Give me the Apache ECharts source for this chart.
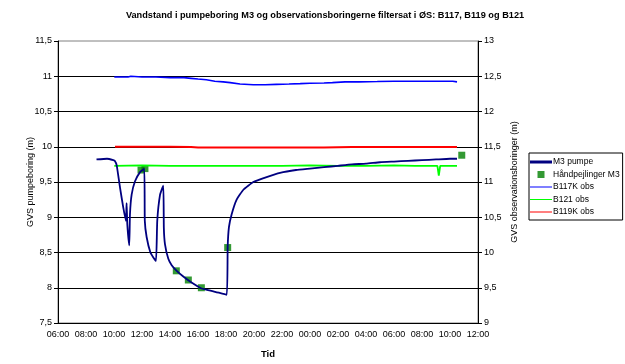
<!DOCTYPE html>
<html><head><meta charset="utf-8">
<script src="https://cdn.jsdelivr.net/npm/echarts@6/dist/echarts.min.js"></script>
<style>html,body{margin:0;padding:0;background:#fff}#c{width:625px;height:364px}</style>
</head><body><div id="c"></div>
<script>
// ---- data (time in hours from 00:00 day 1) ----
const titleText = 'Vandstand i pumpeboring M3 og observationsboringerne filtersat i ØS: B117, B119 og B121';
const xTickLabels = ['06:00','08:00','10:00','12:00','14:00','16:00','18:00','20:00','22:00','00:00','02:00','04:00','06:00','08:00','10:00','12:00'];
const seriesNames = ['M3 pumpe','Håndpejlinger M3','B117K obs','B121 obs','B119K obs'];

const m3Time  = [8.75,9.5,9.95,10.05,10.19,10.43,10.66,10.85,10.9,10.95,11.09,11.14,11.26,11.5,11.86,12.16,12.2,12.33,12.6,12.81,13.0,13.09,13.29,13.52,13.56,13.64,13.88,14.12,14.48,14.95,15.43,16.26,17.1,18.05,18.12,18.21,18.4,18.76,19.24,19.95,20.9,21.86,23,24,25,26,27,28,29,30,31,32,33,34,34.5];
const m3Level = [9.82,9.83,9.81,9.80,9.74,9.42,9.14,8.95,9.2,8.9,8.60,9.04,9.32,9.51,9.64,9.69,8.95,8.72,8.50,8.43,8.38,8.95,9.32,9.45,8.85,8.62,8.41,8.32,8.24,8.16,8.09,7.99,7.95,7.90,8.58,8.86,9.04,9.25,9.39,9.50,9.57,9.63,9.67,9.69,9.71,9.73,9.75,9.76,9.78,9.79,9.80,9.81,9.82,9.83,9.83];

const handTime  = [11.93,12.21,14.45,15.31,16.24,18.12,34.84];
const handLevel = [9.67,9.69,8.24,8.11,8.00,8.57,9.88];

const b117Time  = [10.02,11,11.2,11.3,12,13,14,15,15.5,16,16.6,17.2,17.8,18.3,19,19.95,20.8,21.6,22.5,23.3,24,25,25.6,26.5,27.5,28.8,30,31,32.3,33.5,34.2,34.5];
const b117Level = [12.49,12.49,12.50,12.49,12.49,12.49,12.48,12.48,12.47,12.46,12.45,12.43,12.42,12.41,12.39,12.38,12.38,12.385,12.39,12.395,12.40,12.405,12.41,12.42,12.42,12.425,12.43,12.43,12.43,12.43,12.43,12.42];

const b121Time  = [10.02,12,14,16,18,20,22,24,26,28,30,31.5,33.1,33.2,33.3,34.5];
const b121Level = [11.23,11.235,11.23,11.23,11.23,11.23,11.23,11.235,11.23,11.23,11.235,11.23,11.23,11.09,11.23,11.23];

const b119Time  = [10.07,12,14,15.5,16,18,20,22,24,25,27,29,31,33,34.5];
const b119Level = [11.5,11.5,11.5,11.495,11.49,11.49,11.49,11.49,11.49,11.49,11.495,11.495,11.495,11.495,11.495];

const zip = (a, b) => a.map((t, i) => [t, b[i]]);
const FONT = '"Liberation Sans", Arial, sans-serif';
const comma = v => String(v).replace('.', ',');
const pad = 'M0,0 L0.01,0 L0.01,0.01 Z M22,8 L21.99,8 L21.99,7.99 Z ';
const lineIcon = w => 'path://' + pad + 'M0,' + (4 - w / 2) + ' L22,' + (4 - w / 2) + ' L22,' + (4 + w / 2) + ' L0,' + (4 + w / 2) + ' Z';
const squareIcon = 'path://' + pad + 'M7.5,0.5 L14.5,0.5 L14.5,7.5 L7.5,7.5 Z';

const chart = echarts.init(document.getElementById('c'), null, {renderer: 'canvas'});
chart.setOption({
  animation: false,
  backgroundColor: '#fff',
  textStyle: {fontFamily: FONT, color: '#000'},
  title: {text: titleText, left: 320, textAlign: 'center', top: 6,
    textStyle: {fontFamily: FONT, fontSize: 9.2, fontWeight: 'bold', color: '#000'}},
  grid: {left: 58, right: 147, top: 41, bottom: 37, show: true, borderColor: '#808080', borderWidth: 1, backgroundColor: 'transparent'},
  legend: {
    orient: 'vertical', left: 529, top: 153, padding: [3, 3, 2, 1],
    borderColor: '#000', borderWidth: 1, itemWidth: 22, itemHeight: 8, itemGap: 0.5,
    textStyle: {fontFamily: FONT, fontSize: 8.5, color: '#000', lineHeight: 12, padding: [0, 0, 0, -4]},
    data: [
      {name: seriesNames[0], icon: lineIcon(3)},
      {name: seriesNames[1], icon: squareIcon},
      {name: seriesNames[2], icon: lineIcon(1.2)},
      {name: seriesNames[3], icon: lineIcon(1.2)},
      {name: seriesNames[4], icon: lineIcon(1.2)}
    ]
  },
  xAxis: {
    type: 'value', min: 6, max: 36, interval: 2,
    name: 'Tid', nameLocation: 'middle', nameGap: 26, nameMoveOverlap: false,
    nameTextStyle: {fontFamily: FONT, fontSize: 9.5, fontWeight: 'bold', color: '#000'},
    axisLine: {lineStyle: {color: '#000', width: 1}},
    axisTick: {show: false},
    splitLine: {show: false},
    axisLabel: {fontFamily: FONT, fontSize: 9, color: '#000', margin: 7,
      formatter: v => xTickLabels[Math.round((v - 6) / 2)]}
  },
  yAxis: [
    {
      type: 'value', min: 7.5, max: 11.5, interval: 0.5, position: 'left',
      name: 'GVS pumpeboring (m)', nameLocation: 'middle', nameGap: 23, nameRotate: 90, nameMoveOverlap: false,
      nameTextStyle: {fontFamily: FONT, fontSize: 9, color: '#000'},
      axisLine: {show: true, lineStyle: {color: '#000', width: 1}},
      axisTick: {show: true, length: 4, lineStyle: {color: '#000'}},
      splitLine: {show: true, showMaxLine: false, lineStyle: {color: '#000', width: 1}},
      axisLabel: {fontFamily: FONT, fontSize: 9, color: '#000', margin: 6, formatter: comma}
    },
    {
      type: 'value', min: 9, max: 13, interval: 0.5, position: 'right',
      name: 'GVS observationsboringer (m)', nameLocation: 'middle', nameGap: 32, nameRotate: 90, nameMoveOverlap: false,
      nameTextStyle: {fontFamily: FONT, fontSize: 9, color: '#000'},
      axisLine: {show: true, lineStyle: {color: '#000', width: 1}},
      axisTick: {show: true, length: 4, lineStyle: {color: '#000'}},
      splitLine: {show: false},
      axisLabel: {fontFamily: FONT, fontSize: 9, color: '#000', margin: 6, formatter: comma}
    }
  ],
  series: [
    {name: seriesNames[3], type: 'line', yAxisIndex: 1, data: zip(b121Time, b121Level), symbol: 'none',
      lineStyle: {color: '#00FF00', width: 1.8}, itemStyle: {color: '#00FF00'}},
    {name: seriesNames[4], type: 'line', yAxisIndex: 1, data: zip(b119Time, b119Level), symbol: 'none',
      lineStyle: {color: '#FF0000', width: 2}, itemStyle: {color: '#FF0000'}},
    {name: seriesNames[2], type: 'line', yAxisIndex: 1, data: zip(b117Time, b117Level), symbol: 'none',
      lineStyle: {color: '#0000FF', width: 1.6}, itemStyle: {color: '#0000FF'}},
    {name: seriesNames[0], type: 'line', yAxisIndex: 0, data: zip(m3Time, m3Level), symbol: 'none', smooth: 0.15,
      lineStyle: {color: '#000080', width: 1.8}, itemStyle: {color: '#000080'}},
    {name: seriesNames[1], type: 'scatter', yAxisIndex: 0, data: zip(handTime, handLevel), symbol: 'rect', symbolSize: 7,
      itemStyle: {color: '#008000'}}
  ]
});
</script></body></html>
